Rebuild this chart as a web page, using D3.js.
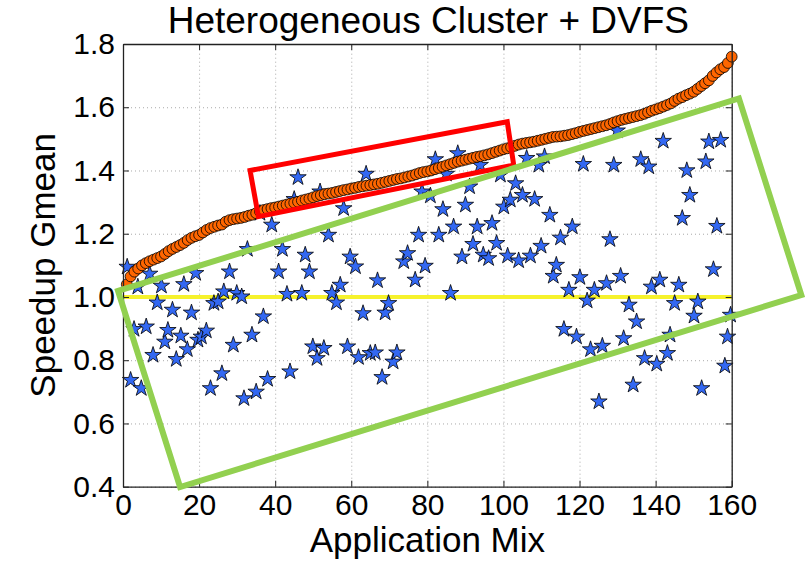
<!DOCTYPE html>
<html>
<head>
<meta charset="utf-8">
<script src="https://cdn.jsdelivr.net/npm/d3@7"></script>
<style>
body { margin: 0; background: #fff; }
text { font-family: "Liberation Sans", Arial, sans-serif; fill: #000; }
</style>
</head>
<body>
<svg id="chart" width="808" height="561"></svg>
<script>
// cluster speedup per mix, already sorted (orange circles), mix 1..160
let gmeanSorted = [
  1.04, 1.065, 1.08, 1.09, 1.10, 1.107, 1.113, 1.118, 1.123, 1.128,
  1.136, 1.145, 1.152, 1.158, 1.164, 1.171, 1.18, 1.187, 1.192, 1.196,
  1.204, 1.212, 1.218, 1.222, 1.226, 1.229, 1.238, 1.243, 1.246, 1.248,
  1.25, 1.253, 1.257, 1.26, 1.265, 1.27, 1.275, 1.278, 1.281, 1.283,
  1.286, 1.289, 1.292, 1.295, 1.298, 1.301, 1.305, 1.308, 1.311, 1.315,
  1.319, 1.322, 1.325, 1.327, 1.329, 1.332, 1.335, 1.338, 1.34, 1.343,
  1.345, 1.348, 1.35, 1.352, 1.354, 1.356, 1.358, 1.361, 1.364, 1.367,
  1.37, 1.373, 1.375, 1.378, 1.381, 1.384, 1.388, 1.392, 1.395, 1.397,
  1.40, 1.404, 1.408, 1.412, 1.416, 1.42, 1.424, 1.428, 1.431, 1.434,
  1.437, 1.44, 1.443, 1.445, 1.448, 1.451, 1.455, 1.459, 1.463, 1.467,
  1.47, 1.474, 1.478, 1.482, 1.485, 1.487, 1.489, 1.491, 1.494, 1.497,
  1.50, 1.503, 1.506, 1.507, 1.508, 1.51, 1.512, 1.515, 1.518, 1.522,
  1.525, 1.528, 1.531, 1.534, 1.537, 1.54, 1.543, 1.547, 1.552, 1.556,
  1.56, 1.563, 1.566, 1.569, 1.572, 1.575, 1.579, 1.584, 1.589, 1.593,
  1.597, 1.602, 1.607, 1.612, 1.62, 1.627, 1.632, 1.638, 1.643, 1.649,
  1.658, 1.667, 1.676, 1.685, 1.699, 1.71, 1.72, 1.727, 1.74, 1.76
]

// blue stars: mix position and speedup
let starMix = [
  1.1, 2.0, 2.9, 3.9, 4.8, 6.1, 7.0, 7.9, 9.0, 10.1,
  11.0, 11.8, 13.0, 14.0, 15.2, 16.0, 16.9, 18.0, 19.1, 19.7,
  20.6, 21.9, 23.0, 23.9, 25.0, 26.0, 26.5, 28.0, 29.0, 29.9,
  31.2, 31.8, 32.7, 33.9, 35.0, 36.0, 36.9, 38.0, 39.1, 40.9,
  41.9, 43.1, 43.9, 45.0, 46.0, 47.0, 47.9, 49.0, 49.9, 51.0,
  51.8, 52.8, 54.0, 54.9, 56.1, 57.1, 58.0, 59.0, 59.7, 61.1,
  61.9, 63.1, 63.9, 65.0, 66.3, 66.9, 68.1, 68.9, 69.8, 71.0,
  72.0, 73.8, 74.8, 76.8, 77.7, 78.6, 79.4, 80.8, 82.1, 83.0,
  84.1, 85.0, 86.1, 86.9, 88.0, 89.1, 90.0, 91.1, 92.0, 93.1,
  93.9, 94.7, 96.1, 97.0, 98.2, 99.2, 100.1, 101.1, 101.8, 103.2,
  104.0, 105.0, 106.1, 107.1, 108.2, 109.3, 109.9, 110.8, 112.2, 113.1,
  113.9, 115.0, 115.9, 117.2, 118.1, 119.2, 120.1, 121.0, 122.0, 122.9,
  123.9, 125.1, 126.0, 127.1, 128.0, 129.0, 129.9, 130.8, 131.6, 133.0,
  134.1, 135.0, 136.1, 137.1, 138.2, 138.9, 140.3, 141.1, 142.0, 143.1,
  143.8, 145.0, 146.1, 147.0, 148.2, 149.0, 150.1, 151.1, 152.1, 153.2,
  154.0, 155.2, 156.1, 157.1, 158.2, 158.9, 159.7
]
let starGmean = [
  1.095, 0.737, 0.898, 1.032, 0.711, 0.906, 1.073, 0.816, 0.982, 1.035,
  0.858, 0.895, 0.959, 0.803, 0.877, 1.04, 0.834, 0.95, 1.075, 0.864,
  0.874, 0.893, 0.711, 0.98, 0.985, 0.758, 1.017, 1.08, 0.848, 1.012,
  1.001, 0.679, 1.151, 0.88, 0.70, 1.265, 0.938, 0.74, 1.228, 1.08,
  1.151, 1.009, 0.764, 1.309, 1.378, 1.012, 1.133, 1.08, 0.843, 0.806,
  1.333, 0.838, 1.196, 1.012, 0.982, 1.038, 1.28, 0.843, 1.127, 1.096,
  0.809, 0.948, 1.389, 0.822, 0.824, 1.052, 0.746, 0.95, 0.98, 0.795,
  0.824, 1.112, 1.138, 1.054, 1.196, 1.333, 1.098, 1.32, 1.435, 1.196,
  1.277, 1.389, 1.012, 1.222, 1.454, 1.127, 1.291, 1.349, 1.167, 1.222,
  1.417, 1.133, 1.122, 1.233, 1.17, 1.386, 1.285, 1.13, 1.307, 1.359,
  1.115, 1.322, 1.439, 1.13, 1.309, 1.417, 1.161, 1.444, 1.259, 1.066,
  1.101, 1.187, 0.898, 1.022, 1.222, 0.874, 1.062, 1.42, 0.988, 0.834,
  1.022, 0.669, 0.845, 1.043, 1.182, 1.417, 1.526, 1.066, 0.869, 0.975,
  0.722, 0.922, 1.435, 0.806, 1.412, 1.032, 0.788, 1.054, 1.493, 0.822,
  0.88, 0.98, 1.038, 1.249, 1.40, 1.322, 0.94, 0.985, 0.711, 1.428,
  1.491, 1.087, 1.224, 1.496, 0.782, 0.874, 0.943
]

let xTicks = [0, 20, 40, 60, 80, 100, 120, 140, 160]
let yTicks = [0.4, 0.6, 0.8, 1.0, 1.2, 1.4, 1.6, 1.8]
let baseline = 1.0

// highlight boxes drawn over the plot, in data units (mix, speedup)
let redBox = [[33.4, 1.40], [101.0, 1.554], [102.7, 1.417], [35.6, 1.254]]
let greenBox = [[-1.3, 1.019], [161.9, 1.628], [178.3, 1.006], [15.0, 0.399]]

let plotLeft = 123, plotRight = 731.7, plotTop = 44, plotBottom = 486.7

let svg = d3.select('#chart')

let x = d3.scaleLinear().domain([0, 160]).range([plotLeft, plotRight])
let y = d3.scaleLinear().domain([0.4, 1.8]).range([plotBottom, plotTop])

// dotted grid
svg.append('g')
  .attr('transform', `translate(0,${plotBottom})`)
  .call(d3.axisBottom(x).tickValues(xTicks).tickSize(-(plotBottom - plotTop)).tickFormat(''))
  .call(g => g.select('.domain').remove())
  .selectAll('line')
  .attr('stroke', '#aaa').attr('stroke-dasharray', '1,3')

svg.append('g')
  .attr('transform', `translate(${plotLeft},0)`)
  .call(d3.axisLeft(y).tickValues(yTicks).tickSize(-(plotRight - plotLeft)).tickFormat(''))
  .call(g => g.select('.domain').remove())
  .selectAll('line')
  .attr('stroke', '#aaa').attr('stroke-dasharray', '1,3')

// yellow reference line at 1.0
svg.append('line')
  .attr('x1', x(0)).attr('x2', x(160))
  .attr('y1', y(baseline)).attr('y2', y(baseline))
  .attr('stroke', '#f6f22c').attr('stroke-width', 4)

// stars
let starData = starMix.map((m, i) => ({ m: m, v: starGmean[i] }))
svg.append('g').selectAll('path')
  .data(starData)
  .enter()
  .append('path')
  .attr('d', d3.symbol().type(d3.symbolStar).size(84))
  .attr('transform', d => `translate(${x(d.m)},${y(d.v)})`)
  .attr('fill', '#3368f2')
  .attr('stroke', '#000')
  .attr('stroke-width', 0.8)

// orange circles
svg.append('g').selectAll('circle')
  .data(gmeanSorted)
  .enter()
  .append('circle')
  .attr('cx', (d, i) => x(i + 1))
  .attr('cy', d => y(d))
  .attr('r', 5.4)
  .attr('fill', '#ff6600')
  .attr('stroke', '#000')
  .attr('stroke-width', 0.8)

// axes box with inward ticks
let bottomAxis = svg.append('g')
  .attr('transform', `translate(0,${plotBottom})`)
  .call(d3.axisBottom(x).tickValues(xTicks).tickSizeInner(-6).tickSizeOuter(0).tickPadding(7))
let leftAxis = svg.append('g')
  .attr('transform', `translate(${plotLeft},0)`)
  .call(d3.axisLeft(y).tickValues(yTicks).tickFormat(d3.format('.1f')).tickSizeInner(-6).tickSizeOuter(0).tickPadding(8))
let topAxis = svg.append('g')
  .attr('transform', `translate(0,${plotTop})`)
  .call(d3.axisTop(x).tickValues(xTicks).tickSizeInner(-6).tickSizeOuter(0).tickFormat(''))
let rightAxis = svg.append('g')
  .attr('transform', `translate(${plotRight},0)`)
  .call(d3.axisRight(y).tickValues(yTicks).tickSizeInner(-6).tickSizeOuter(0).tickFormat(''))

;[bottomAxis, leftAxis, topAxis, rightAxis].forEach(g => {
  g.select('.domain').attr('stroke', '#222').attr('stroke-width', 1.3)
  g.selectAll('.tick line').attr('stroke', '#222')
  g.selectAll('text').style('font-family', '"Liberation Sans", Arial, sans-serif').style('font-size', '30px').attr('fill', '#000')
})

// highlight polygons
let boxLine = d3.line().x(d => x(d[0])).y(d => y(d[1])).curve(d3.curveLinearClosed)

svg.append('path')
  .attr('d', boxLine(redBox))
  .attr('fill', 'none')
  .attr('stroke', '#ff0000')
  .attr('stroke-width', 5)
  .attr('stroke-linejoin', 'miter')

svg.append('path')
  .attr('d', boxLine(greenBox))
  .attr('fill', 'none')
  .attr('stroke', '#92d050')
  .attr('stroke-width', 6)
  .attr('stroke-linejoin', 'miter')

// labels
svg.append('text')
  .attr('x', (plotLeft + plotRight) / 2 + 1)
  .attr('y', 33)
  .attr('text-anchor', 'middle')
  .style('font-size', '37px')
  .text('Heterogeneous Cluster + DVFS')

svg.append('text')
  .attr('x', (plotLeft + plotRight) / 2)
  .attr('y', 552)
  .attr('text-anchor', 'middle')
  .style('font-size', '35px')
  .text('Application Mix')

svg.append('text')
  .attr('transform', `translate(55,${(plotTop + plotBottom) / 2}) rotate(-90)`)
  .attr('text-anchor', 'middle')
  .style('font-size', '35px')
  .text('Speedup Gmean')
</script>
</body>
</html>
